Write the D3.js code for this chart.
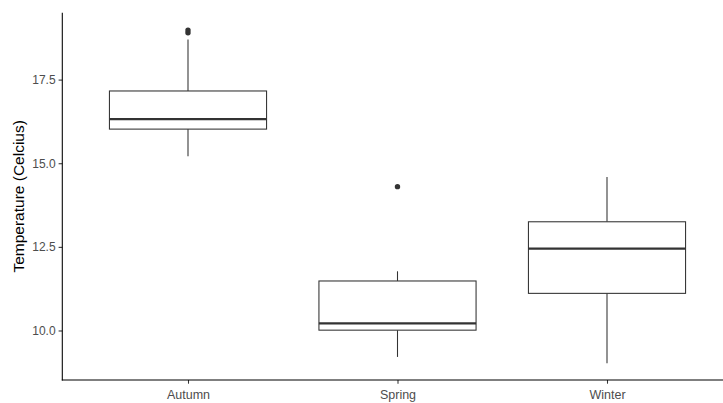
<!DOCTYPE html>
<html>
<head>
<meta charset="utf-8">
<script src="https://cdn.jsdelivr.net/npm/d3@7"></script>
<style>
html,body{margin:0;padding:0;background:#fff;}
svg{display:block;font-family:"Liberation Sans",Arial,sans-serif;}
</style>
</head>
<body>
<svg id="chart" width="723" height="403"></svg>
<script>
const categories = ["Autumn", "Spring", "Winter"];
const whiskerLow  = [15.21, 9.21, 9.02];
const q1          = [16.02, 10.01, 11.11];
const median      = [16.32, 10.21, 12.45];
const q3          = [17.16, 11.48, 13.25];
const whiskerHigh = [18.70, 11.77, 14.59];
const outliers    = [[18.90, 18.98], [14.30], []];
const yTicks      = [10.0, 12.5, 15.0, 17.5];
const yTitle      = "Temperature (Celcius)";

(function () {
const svg = d3.select("#chart");
const padLeft = 62.3, padBottom = 380, padTop = 12.7;

const yMin = 8.52, yMax = 19.5;
const y = d3.scaleLinear().domain([yMin, yMax]).range([padBottom, padTop]);
const x = d3.scaleLinear().domain([0.4, 3.6]).range([padLeft, 732.7]);
const unit = x(2) - x(1);
const boxW = 0.75 * unit;

const stroke = "#333333";
const lw = 1.07;

const g = svg.append("g");
categories.forEach((c, i) => {
  const cx = x(i + 1);
  g.append("line").attr("x1", cx).attr("x2", cx)
    .attr("y1", y(q3[i])).attr("y2", y(whiskerHigh[i]))
    .attr("stroke", stroke).attr("stroke-width", lw);
  g.append("line").attr("x1", cx).attr("x2", cx)
    .attr("y1", y(q1[i])).attr("y2", y(whiskerLow[i]))
    .attr("stroke", stroke).attr("stroke-width", lw);
  g.append("rect").attr("x", cx - boxW / 2).attr("width", boxW)
    .attr("y", y(q3[i])).attr("height", y(q1[i]) - y(q3[i]))
    .attr("fill", "#fff").attr("stroke", stroke).attr("stroke-width", lw);
  g.append("line").attr("x1", cx - boxW / 2).attr("x2", cx + boxW / 2)
    .attr("y1", y(median[i])).attr("y2", y(median[i]))
    .attr("stroke", stroke).attr("stroke-width", 2.2);
  outliers[i].forEach(v => {
    g.append("circle").attr("cx", cx).attr("cy", y(v)).attr("r", 2.7)
      .attr("fill", stroke);
  });
});

const yAxis = d3.axisLeft(y).tickValues(yTicks).tickFormat(d3.format(".1f"))
  .tickSize(3.7).tickPadding(3);
const ya = svg.append("g").attr("transform", `translate(${padLeft},0)`).call(yAxis);
ya.select(".domain").remove();
ya.selectAll(".tick line").attr("stroke", stroke).attr("stroke-width", lw);
ya.selectAll(".tick text").attr("fill", "#4d4d4d").style("font-size", "12px")
  .style("font-family", "Liberation Sans, Arial, sans-serif");

const xBand = d3.scalePoint().domain(categories).range([x(1), x(3)]);
const xAxis = d3.axisBottom(xBand).tickSize(3.7).tickPadding(6);
const xa = svg.append("g").attr("transform", `translate(0,${padBottom})`).call(xAxis);
xa.select(".domain").remove();
xa.selectAll(".tick line").attr("stroke", stroke).attr("stroke-width", lw);
xa.selectAll(".tick text").attr("fill", "#4d4d4d").style("font-size", "12.5px")
  .style("font-family", "Liberation Sans, Arial, sans-serif");

svg.append("line").attr("x1", padLeft).attr("x2", padLeft).attr("y1", padTop).attr("y2", padBottom + 0.5)
  .attr("stroke", "#000").attr("stroke-width", lw);
svg.append("line").attr("x1", padLeft - 0.5).attr("x2", 723).attr("y1", padBottom).attr("y2", padBottom)
  .attr("stroke", "#000").attr("stroke-width", lw);

svg.append("text")
  .attr("transform", `translate(24,${(padTop + padBottom) / 2}) rotate(-90)`)
  .attr("text-anchor", "middle")
  .style("font-size", "15.5px")
  .attr("fill", "#000")
  .text(yTitle);
})();
</script>
</body>
</html>
